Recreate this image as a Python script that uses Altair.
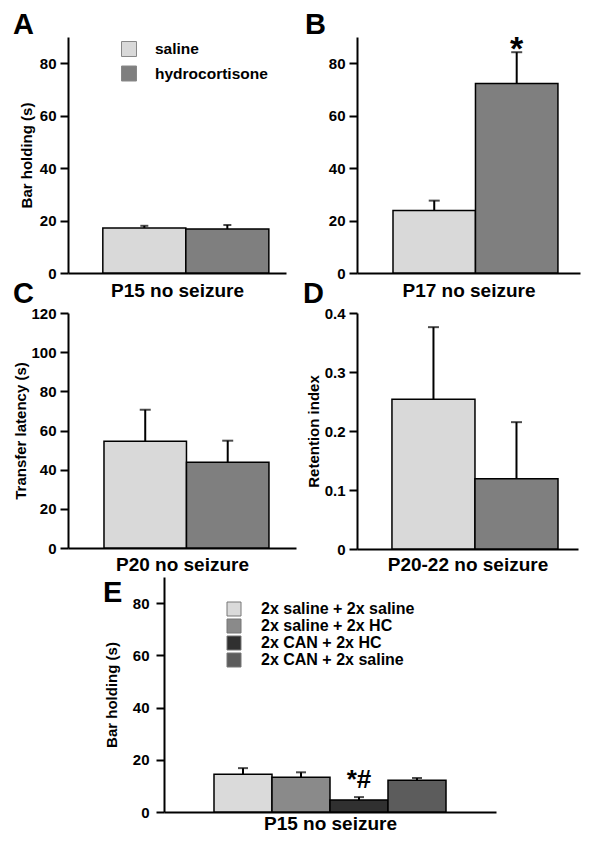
import altair as alt
import pandas as pd

FONT = "Liberation Sans"

# ---------------- data ----------------
ab_groups = ["saline", "hydrocortisone"]
ab_colors = ["#d9d9d9", "#7f7f7f"]

a_mean = [17.2, 16.8]
a_upper = [18.0, 18.3]

b_mean = [23.8, 72.3]
b_upper = [27.6, 84.2]

c_mean = [54.5, 43.8]
c_upper = [70.6, 54.8]

d_mean = [0.254, 0.119]
d_upper = [0.376, 0.215]

e_groups = ["2x saline + 2x saline", "2x saline + 2x HC", "2x CAN + 2x HC", "2x CAN + 2x saline"]
e_colors = ["#dadada", "#8a8a8a", "#303030", "#5c5c5c"]
e_mean = [14.5, 13.3, 4.6, 12.2]
e_upper = [16.8, 15.2, 5.7, 13.0]

bar_ticks = [0, 20, 40, 60, 80]
latency_ticks = [0, 20, 40, 60, 80, 100, 120]
retention_ticks = [0, 0.1, 0.2, 0.3, 0.4]


def frame_box(L, R, T, B, width, height):
    return alt.Chart(pd.DataFrame({"f": [0]})).mark_rect(
        opacity=0, fillOpacity=0, strokeOpacity=0).encode(
        x=alt.value(-L), x2=alt.value(width + R),
        y=alt.value(-T), y2=alt.value(height + B))


def panel(letter, letter_pos, groups, colors, means, uppers, ymax, yticks,
          ytitle, xtitle, width, height, pad_outer, align,
          y_title_pad, y_label_pad, x_title_pad, frame, legend=None,
          label_expr=None, sig=None, cap=11):
    df = pd.DataFrame({"group": groups, "mean": means, "upper": uppers})
    x = alt.X("group:N", sort=groups,
              scale=alt.Scale(paddingInner=0, paddingOuter=pad_outer, align=align),
              axis=alt.Axis(labels=False, ticks=False, title=xtitle,
                            titleFontSize=19, titlePadding=x_title_pad))
    axis_kw = dict(values=yticks, title=ytitle, titlePadding=y_title_pad,
                   labelPadding=y_label_pad, tickSize=8, labelFontSize=15,
                   titleFontSize=15)
    if label_expr:
        axis_kw["labelExpr"] = label_expr
    yaxis = alt.Axis(**axis_kw)
    yscale = alt.Scale(domain=[0, ymax], nice=False, zero=True)
    color = alt.Color("group:N", sort=groups,
                      scale=alt.Scale(domain=groups, range=colors),
                      legend=legend)
    base = alt.Chart(df)
    bars = base.mark_bar(stroke="black", strokeWidth=1.5).encode(
        x=x, y=alt.Y("mean:Q", scale=yscale, axis=yaxis), color=color)
    err = base.mark_rule(color="black", strokeWidth=2).encode(
        x=x, y=alt.Y("mean:Q", scale=yscale, axis=yaxis), y2="upper:Q")
    caps = base.mark_tick(color="black", thickness=2, size=cap).encode(
        x=x, y=alt.Y("upper:Q", scale=yscale, axis=yaxis))
    lab = alt.Chart(pd.DataFrame({"t": [letter]})).mark_text(
        align="left", baseline="alphabetic", fontSize=29, fontWeight="bold",
        font=FONT, color="black").encode(
        text="t:N", x=alt.value(letter_pos[0]), y=alt.value(letter_pos[1]))
    L, R, T, B = frame
    layers = [frame_box(L, R, T, B, width, height), bars, err, caps, lab]
    if sig is not None:
        grp, txt, fs, dy = sig
        layers.append(
            base.transform_filter(alt.datum.group == grp).mark_text(
                text=txt, fontSize=fs, fontWeight="bold", font=FONT,
                baseline="alphabetic", dy=dy, color="black").encode(
                x=x, y=alt.Y("upper:Q", scale=yscale, axis=yaxis)))
    return alt.layer(*layers).properties(width=width, height=height)


legend_a = alt.Legend(orient="none", legendX=53, legendY=4, title=None,
                      symbolType="square", symbolSize=225,
                      symbolStrokeColor="#888888", symbolStrokeWidth=1,
                      labelFontSize=15.5, labelFontWeight="bold", labelFont=FONT,
                      labelColor="black", labelOffset=18, rowPadding=4.5,
                      padding=0, symbolOpacity=1)

legend_e = alt.Legend(orient="none", legendX=62, legendY=24, title=None,
                      symbolType="square", symbolSize=196,
                      symbolStrokeColor="#777777", symbolStrokeWidth=1,
                      labelFontSize=16, labelFontWeight="bold", labelFont=FONT,
                      labelColor="black", labelOffset=19, rowPadding=-1.3,
                      padding=0, symbolOpacity=1)

# frames (left, right, top, bottom) around each plot area
pA = panel("A", (-55, -3), ab_groups, ab_colors, a_mean, a_upper, 90, bar_ticks,
           "Bar holding (s)", "P15 no seizure", 218, 236, 0.313, 0.67, 5, 4, 8,
           (60, 5, 26, 28), legend=legend_a, cap=8)
pB = panel("B", (-52, -3), ab_groups, ab_colors, b_mean, b_upper, 90, bar_ticks,
           None, "P17 no seizure", 223, 236, 0.352, 0.62, 5, 4, 8,
           (66, 5, 26, 28), sig=("hydrocortisone", "*", 34, 8))
pC = panel("C", (-55, -10), ab_groups, ab_colors, c_mean, c_upper, 120, latency_ticks,
           "Transfer latency (s)", "P20 no seizure", 228, 235, 0.382, 0.571, 2, 4, 7,
           (60, 5, 33, 48))
pD = panel("D", (-54, -10), ab_groups, ab_colors, d_mean, d_upper, 0.4, retention_ticks,
           "Retention index", "P20-22 no seizure", 221, 236, 0.331, 0.636, 3, 4, 6,
           (56, 5, 33, 47),
           label_expr="datum.value == 0 ? '0' : format(datum.value, '.1f')")
pE = panel("E", (-61, 25), e_groups, e_colors, e_mean, e_upper, 90, bar_ticks,
           "Bar holding (s)", "P15 no seizure", 332, 235, 0.862, 0.5, 13, 7, 2,
           (60, 5, 2, 20), legend=legend_e,
           sig=("2x CAN + 2x HC", "*#", 26, -9), cap=10)

# empty cell that shifts panel E to the right
spacer = alt.layer(frame_box(0, 0, 0, 0, 35, 1)).properties(width=35, height=1)

row1 = alt.concat(pA, pB, columns=2, spacing=0, align="none").resolve_scale(color="independent")
row2 = alt.concat(pC, pD, columns=2, spacing=0, align="none").resolve_scale(color="independent")
row3 = alt.concat(spacer, pE, columns=2, spacing=0, align="none").resolve_scale(color="independent")

chart = alt.concat(row1, row2, row3, columns=1, spacing=-21, align="none").resolve_scale(
    color="independent"
).properties(
    padding={"left": 0, "top": 3, "right": 0, "bottom": 0}
).configure(font=FONT).configure_view(
    stroke=None
).configure_axis(
    domainColor="black", tickColor="black", labelColor="black",
    titleColor="black", labelFont=FONT, titleFont=FONT,
    labelFontWeight="bold", titleFontWeight="bold", grid=False,
    domainWidth=2, tickWidth=2
)

chart.save("out.html", embed_options={"renderer": "svg", "actions": False})
